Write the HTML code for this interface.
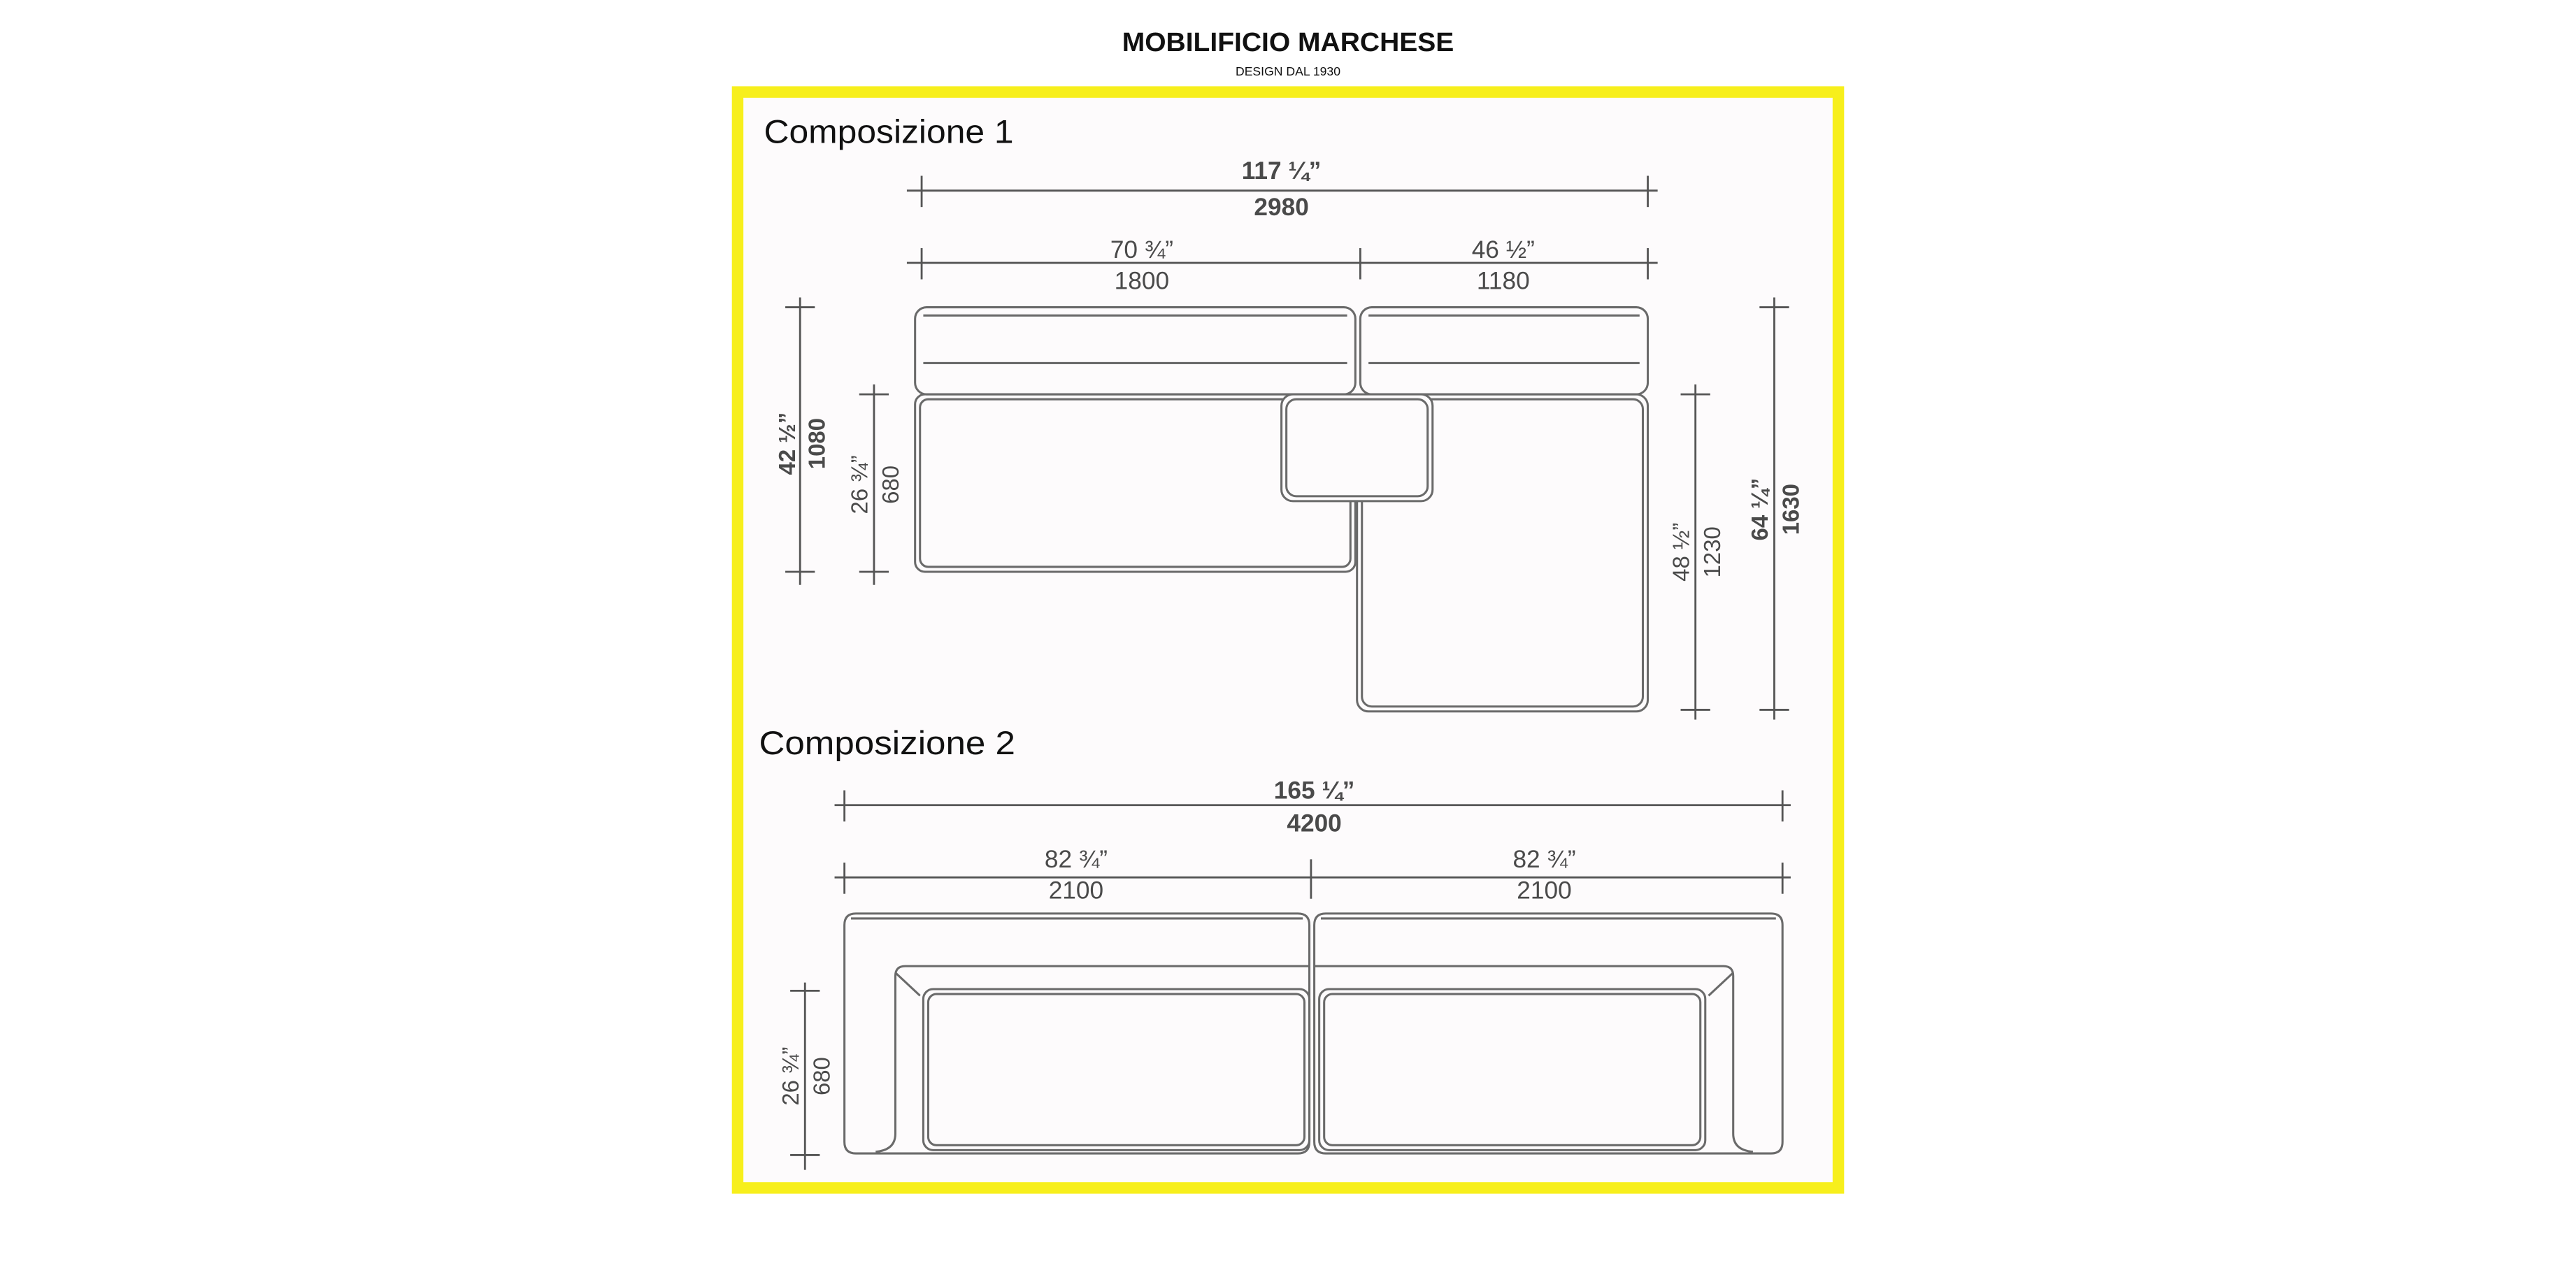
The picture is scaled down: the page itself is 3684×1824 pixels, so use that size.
<!DOCTYPE html>
<html><head><meta charset="utf-8"><style>
html,body{margin:0;padding:0;background:#fff;width:3684px;height:1824px;overflow:hidden}
svg{display:block}
.d{font-family:"Liberation Sans Narrow","Liberation Sans",sans-serif;fill:#4a4a4a;text-anchor:middle}
.b{font-weight:bold}
.c{font-family:"Liberation Sans",sans-serif;fill:#111}
.l{stroke:#555;stroke-width:1.2;fill:none}
.s{stroke:#6a6a6a;stroke-width:1.3;fill:none}
</style></head><body>
<svg width="3684" height="1824" viewBox="0 0 1568 776" preserveAspectRatio="none">
<rect x="0" y="0" width="1568" height="776" fill="#fff"/>
<text x="683" y="31" class="c" font-size="16" font-weight="bold" fill="#222" textLength="202" lengthAdjust="spacingAndGlyphs">MOBILIFICIO MARCHESE</text>
<text x="784" y="46" class="c" text-anchor="middle" font-size="7.5" fill="#333">DESIGN DAL 1930</text>
<rect x="449" y="56" width="670" height="667" fill="#fdfbfc" stroke="#f7ef1c" stroke-width="7"/>
<text x="465" y="87" class="c" font-size="20" textLength="152" lengthAdjust="spacingAndGlyphs">Composizione 1</text>
<text x="462" y="459" class="c" font-size="20" textLength="156" lengthAdjust="spacingAndGlyphs">Composizione 2</text>

<g class="l">
<line x1="552" y1="116" x2="1009" y2="116"/>
<line x1="561" y1="107" x2="561" y2="126"/><line x1="1003" y1="107" x2="1003" y2="126"/>
<line x1="552" y1="160" x2="1009" y2="160"/>
<line x1="561" y1="151" x2="561" y2="170"/><line x1="828" y1="151" x2="828" y2="170"/><line x1="1003" y1="151" x2="1003" y2="170"/>
<line x1="487" y1="181" x2="487" y2="356"/><line x1="478" y1="187" x2="496" y2="187"/><line x1="478" y1="348" x2="496" y2="348"/>
<line x1="532" y1="234" x2="532" y2="356"/><line x1="523" y1="240" x2="541" y2="240"/><line x1="523" y1="348" x2="541" y2="348"/>
<line x1="1032" y1="234" x2="1032" y2="438"/><line x1="1023" y1="240" x2="1041" y2="240"/><line x1="1023" y1="432" x2="1041" y2="432"/>
<line x1="1080" y1="181" x2="1080" y2="438"/><line x1="1071" y1="187" x2="1089" y2="187"/><line x1="1071" y1="432" x2="1089" y2="432"/>
</g>
<text x="780" y="109" class="d b" font-size="15">117 ¼”</text>
<text x="780" y="131" class="d b" font-size="15">2980</text>
<text x="695" y="157" class="d" font-size="15">70 ¾”</text>
<text x="695" y="176" class="d" font-size="15">1800</text>
<text x="915" y="157" class="d" font-size="15">46 ½”</text>
<text x="915" y="176" class="d" font-size="15">1180</text>
<text transform="translate(484,270) rotate(-90)" class="d b" font-size="14">42 ½”</text>
<text transform="translate(502,270) rotate(-90)" class="d b" font-size="14">1080</text>
<text transform="translate(528,295) rotate(-90)" class="d" font-size="14">26 ¾”</text>
<text transform="translate(547,295) rotate(-90)" class="d" font-size="14">680</text>
<text transform="translate(1028,336) rotate(-90)" class="d" font-size="14">48 ½”</text>
<text transform="translate(1047,336) rotate(-90)" class="d" font-size="14">1230</text>
<text transform="translate(1076,310) rotate(-90)" class="d b" font-size="14">64 ¼”</text>
<text transform="translate(1095,310) rotate(-90)" class="d b" font-size="14">1630</text>

<g class="s">
<rect x="557" y="187" width="268" height="53" rx="7"/>
<line x1="562" y1="192" x2="820" y2="192"/><line x1="562" y1="221" x2="820" y2="221"/>
<rect x="828" y="187" width="175" height="53" rx="7"/>
<line x1="833" y1="192" x2="998" y2="192"/><line x1="833" y1="221" x2="998" y2="221"/>
<rect x="557" y="240" width="268" height="108" rx="6"/>
<rect x="560" y="243" width="262" height="102" rx="5"/>
<rect x="826" y="240" width="177" height="193" rx="7"/>
<rect x="829" y="243" width="171" height="187" rx="6"/>
<rect x="780" y="240" width="92" height="65" rx="7" fill="#fdfbfc"/>
<rect x="783" y="243" width="86" height="59" rx="6"/>
</g>

<g class="l">
<line x1="508" y1="490" x2="1090" y2="490"/>
<line x1="514" y1="481" x2="514" y2="500"/><line x1="1085" y1="481" x2="1085" y2="500"/>
<line x1="508" y1="534" x2="1090" y2="534"/>
<line x1="514" y1="525" x2="514" y2="544"/><line x1="798" y1="523" x2="798" y2="547"/><line x1="1085" y1="525" x2="1085" y2="544"/>
<line x1="490" y1="598" x2="490" y2="712"/><line x1="481" y1="603" x2="499" y2="603"/><line x1="481" y1="703" x2="499" y2="703"/>
</g>
<text x="800" y="486" class="d b" font-size="15">165 ¼”</text>
<text x="800" y="506" class="d b" font-size="15">4200</text>
<text x="655" y="528" class="d" font-size="15">82 ¾”</text>
<text x="655" y="547" class="d" font-size="15">2100</text>
<text x="940" y="528" class="d" font-size="15">82 ¾”</text>
<text x="940" y="547" class="d" font-size="15">2100</text>
<text transform="translate(486,655) rotate(-90)" class="d" font-size="14">26 ¾”</text>
<text transform="translate(505,655) rotate(-90)" class="d" font-size="14">680</text>

<g class="s">
<path d="M514,563 q0,-7 7,-7 H790 q7,0 7,7 V695 q0,7 -7,7 H521 q-7,0 -7,-7 Z"/>
<path d="M800,563 q0,-7 7,-7 H1078 q7,0 7,7 V695 q0,7 -7,7 H807 q-7,0 -7,-7 Z"/>
<line x1="518" y1="559" x2="793" y2="559"/><line x1="804" y1="559" x2="1081" y2="559"/>
<path d="M797,588 H551 q-6,0 -6,6 V690 q0,10 -12,11"/>
<path d="M800,588 H1049 q6,0 6,6 V690 q0,10 12,11"/>
<line x1="545" y1="592" x2="560" y2="606"/><line x1="1055" y1="592" x2="1040" y2="606"/>
<rect x="562" y="602" width="235" height="98" rx="6"/>
<rect x="565" y="605" width="229" height="92" rx="5"/>
<rect x="803" y="602" width="235" height="98" rx="6"/>
<rect x="806" y="605" width="229" height="92" rx="5"/>
</g>
</svg>
</body></html>
